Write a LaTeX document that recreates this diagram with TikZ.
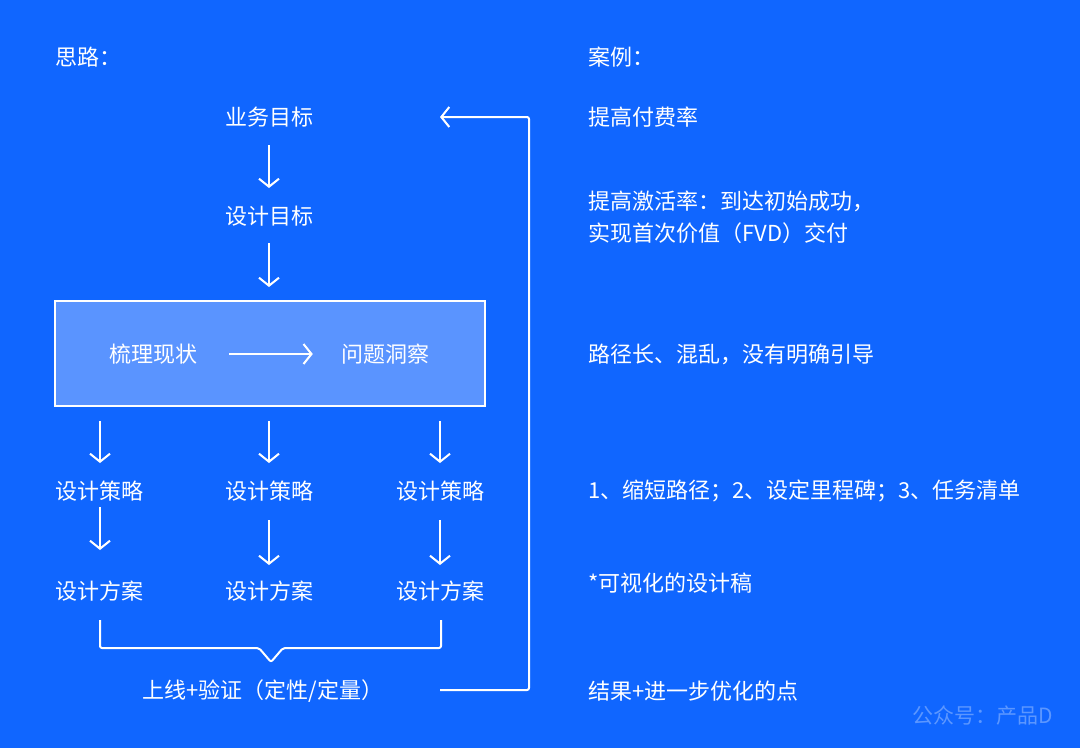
\documentclass[tikz,border=0pt]{standalone}
\usepackage{fontspec}
\setmainfont{Noto Sans CJK SC}
\usetikzlibrary{arrows.meta,calc}
\definecolor{bg}{HTML}{1066FF}
\definecolor{boxfill}{HTML}{5A94FF}
\definecolor{wm}{HTML}{5C97FF}
\tikzset{
  lbl/.style={text=white,font=\fontsize{22}{32}\selectfont,inner sep=0pt},
  rlbl/.style={lbl,anchor=west,align=left},
  arr/.style={draw=white,line width=2pt,-{Straight Barb[length=8pt,width=20pt,line width=2pt]}},
  ln/.style={draw=white,line width=2pt,line join=round},
}
\begin{document}
\begin{tikzpicture}[x=1pt,y=-1pt]
\fill[bg] (0,0) rectangle (1080,748);
\useasboundingbox (0,0) rectangle (1080,748);
% left column
\node[rlbl] (silu) at (55,57) {思路：};
\node[rlbl] (anli) at (588,57) {案例：};
\node[lbl] (goal) at (269,117) {业务目标};
\node[lbl] (dgoal) at (269,216) {设计目标};
\node[draw=white,line width=2pt,fill=boxfill,minimum width=430pt,minimum height=105pt,inner sep=0pt] (box) at (270,353.5) {};
\node[lbl] (cur) at (153,354) {梳理现状};
\node[lbl] (ins) at (385,354) {问题洞察};
\draw[arr,shorten <=32pt,shorten >=28pt] (cur.east) -- (ins.west);
\draw[arr,shorten <=28pt,shorten >=28pt] (goal.center) -- (dgoal.center);
\draw[arr,shorten <=27pt,shorten >=13pt] (dgoal.center) -- (dgoal |- box.north);
\foreach \i/\x in {1/100,2/269,3/440}{
  \node[lbl] (s\i) at (\x,491) {设计策略};
  \node[lbl] (p\i) at (\x,591) {设计方案};
  \draw[arr,shorten <=14pt,shorten >=28pt] (s\i |- box.south) -- (s\i.center);
}
\draw[arr,shorten <=16pt,shorten >=41pt] (s1.center) -- (p1.center);
\draw[arr,shorten <=29pt,shorten >=26pt] (s2.center) -- (p2.center);
\draw[arr,shorten <=29pt,shorten >=26pt] (s3.center) -- (p3.center);
% bracket
\coordinate (bl) at (100,620);
\coordinate (br) at (441,620);
\coordinate (tip) at (271,662);
\draw[ln,rounded corners=2pt] (bl) -- (100,648) -- (259,648) -- (tip) -- (283,648) -- (441,648) -- (br);
\node[lbl] (launch) at (263,691) {上线+验证（定性/定量）};
% feedback loop
\coordinate (fbs) at (440,690);
\coordinate (fbe) at (440,117);
\draw[arr,rounded corners=2pt] (fbs) -- (529,690) -- (529,117) -- (fbe);
% right column
\node[rlbl] (r1) at (588,117) {提高付费率};
\node[rlbl] (r2) at (588,217) {提高激活率：到达初始成功，\\实现首次价值（FVD）交付};
\node[rlbl] (r3) at (588,354) {路径长、混乱，没有明确引导};
\node[rlbl] (r4) at (588,491) {1、缩短路径；2、设定里程碑；3、任务清单};
\node[rlbl] (r5) at (588,583) {*可视化的设计稿};
\node[rlbl] (r6) at (588,691) {结果+进一步优化的点};
\node[anchor=west,text=wm,font=\fontsize{21}{24}\selectfont,inner sep=0pt] (wmk) at (912,716) {公众号：产品D};
\end{tikzpicture}
\end{document}
